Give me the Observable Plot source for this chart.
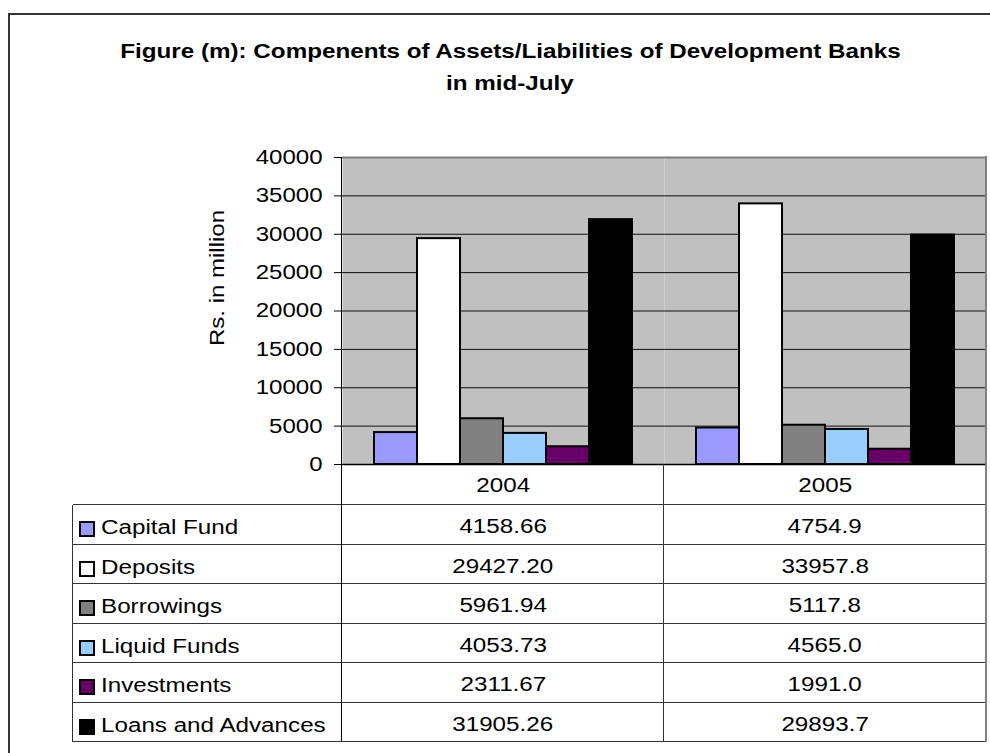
<!DOCTYPE html>
<html><head><meta charset="utf-8">
<script src="https://cdn.jsdelivr.net/npm/d3@7"></script>
<script src="https://cdn.jsdelivr.net/npm/@observablehq/plot@0.6"></script>
<style>
body{margin:0;background:#fff;font-family:"Liberation Sans",Arial,sans-serif;color:#000;}
#wrap{position:relative;width:990px;height:753px;overflow:hidden;}
.abs{position:absolute;}
.title{position:absolute;left:0;width:1020px;text-align:center;font-weight:bold;font-size:20px;white-space:nowrap;}
.cell{position:absolute;height:40px;line-height:40px;font-size:20px;white-space:nowrap;}
.sx{display:inline-block;transform:scaleX(1.21);}
.cell.l .sx{transform-origin:0 50%;}
.hl{position:absolute;height:0;border-top:1.5px solid #333;}
.vl{position:absolute;width:0;}
.sw{position:absolute;width:16px;height:16px;box-sizing:border-box;border:2px solid #000;}
</style></head><body><div id="wrap"></div>
<script>
const years = ["2004", "2005"];
const series = ["Capital Fund", "Deposits", "Borrowings", "Liquid Funds", "Investments", "Loans and Advances"];
const values2004 = [4158.66, 29427.20, 5961.94, 4053.73, 2311.67, 31905.26];
const values2005 = [4754.9, 33957.8, 5117.8, 4565.0, 1991.0, 29893.7];
const labels2004 = ["4158.66", "29427.20", "5961.94", "4053.73", "2311.67", "31905.26"];
const labels2005 = ["4754.9", "33957.8", "5117.8", "4565.0", "1991.0", "29893.7"];
const colors = ["#9999ff", "#ffffff", "#808080", "#99ccff", "#660066", "#000000"];
const yTicks = [0, 5000, 10000, 15000, 20000, 25000, 30000, 35000, 40000];
const titleLines = ["Figure (m): Compenents of Assets/Liabilities of Development Banks", "in mid-July"];
const yLabel = "Rs. in million";

const wrap = document.getElementById("wrap");
function add(cls, css, text) {
  const d = document.createElement("div");
  d.className = cls;
  Object.assign(d.style, css);
  if (text != null) {
    const s = document.createElement("span");
    s.className = "sx";
    s.textContent = text;
    d.appendChild(s);
  }
  wrap.appendChild(d);
  return d;
}

// outer frame
add("abs", {left: "8px", top: "13px", width: "1100px", height: "900px", borderLeft: "2px solid #333", borderTop: "2px solid #333"});

// titles
add("title", {top: "40px"}, titleLines[0]);
add("title", {top: "72px"}, titleLines[1]);

const data = [];
years.forEach((yr, i) => series.forEach((s, j) => data.push({year: yr, series: s, value: (i ? values2005 : values2004)[j]})));

const chart = Plot.plot({
  width: 990, height: 470,
  marginLeft: 342, marginRight: 4, marginTop: 157, marginBottom: 6,
  style: {background: "transparent", fontFamily: "'Liberation Sans', Arial, sans-serif", fontSize: "20px", color: "#000", overflow: "visible"},
  fx: {domain: years, padding: 0, axis: null},
  x: {domain: series, paddingInner: 0, paddingOuter: 0.72, axis: null},
  y: {domain: [0, 40000], ticks: yTicks, tickSize: 8, tickPadding: 12, tickFormat: "d", label: null},
  color: {domain: series, range: colors},
  marks: [
    Plot.frame({fill: "#c0c0c0", stroke: "none"}),
    Plot.ruleY(yTicks.slice(1, -1), {stroke: "#111", strokeWidth: 1}),
    Plot.ruleY([40000], {stroke: "#808080", strokeWidth: 2}),
    Plot.barY(data, {fx: "year", x: "series", y: "value", fill: "series", stroke: "#000", strokeWidth: 2}),
    Plot.ruleY([0], {stroke: "#000", strokeWidth: 1.5})
  ]
});
chart.style.position = "absolute";
chart.style.left = "0px";
chart.style.top = "0px";
wrap.appendChild(chart);
// widen tick labels to match the reference's wide lettering
chart.querySelectorAll('g[aria-label="y-axis tick label"] text').forEach(t => {
  try {
    const w = t.getComputedTextLength();
    if (w > 0) {
      t.setAttribute("textLength", (w * 1.2).toFixed(1));
      t.setAttribute("lengthAdjust", "spacingAndGlyphs");
    }
  } catch (e) {}
});

// y label
add("abs", {left: "217px", top: "278px", transform: "translate(-50%,-50%) rotate(-90deg) scaleX(1.2)", fontSize: "20px", whiteSpace: "nowrap"}, yLabel).firstChild.style.transform = "none";

// table
const colX = [73, 342, 664, 986];
const headTop = 464, rowTop = 505, rowH = 39.5;
years.forEach((yr, i) => add("cell", {left: colX[i + 1] + "px", width: (colX[i + 2] - colX[i + 1]) + "px", textAlign: "center", top: (headTop + 1) + "px"}, yr));
series.forEach((s, j) => {
  const t = rowTop + j * rowH;
  add("sw", {left: "79px", top: (t + 16) + "px", background: colors[j]});
  add("cell l", {left: "101px", top: (t + 2) + "px"}, s);
  add("cell", {left: colX[1] + "px", width: (colX[2] - colX[1]) + "px", textAlign: "center", top: (t + 1) + "px"}, labels2004[j]);
  add("cell", {left: colX[2] + "px", width: (colX[3] - colX[2]) + "px", textAlign: "center", top: (t + 1) + "px"}, labels2005[j]);
});
for (let k = 0; k <= series.length; k++) {
  const t = rowTop + k * rowH;
  add("hl", {left: colX[0] + "px", width: (colX[3] - colX[0]) + "px", top: (t - 0.75) + "px"});
}
add("vl", {left: (colX[0] - 0.75) + "px", top: rowTop + "px", height: (series.length * rowH) + "px", borderLeft: "1.5px solid #333"});
add("vl", {left: (colX[1] - 0.75) + "px", top: "157px", height: (rowTop + series.length * rowH - 157) + "px", borderLeft: "1.5px solid #000"});
add("vl", {left: (colX[2] - 0.75) + "px", top: headTop + "px", height: (rowTop + series.length * rowH - headTop) + "px", borderLeft: "1.5px solid #333"});
add("vl", {left: (colX[3] - 1) + "px", top: "156px", height: (rowTop + series.length * rowH - 156) + "px", borderLeft: "2px solid #808080"});
</script></body></html>
